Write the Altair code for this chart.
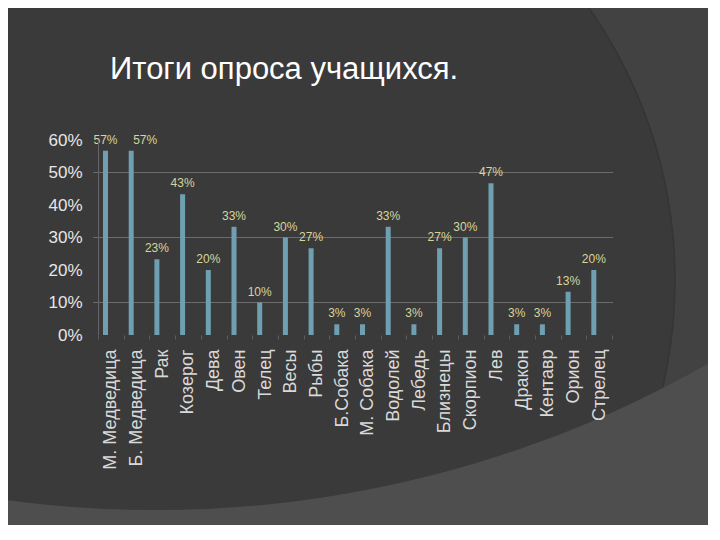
import altair as alt
import pandas as pd

TITLE = "Итоги опроса учащихся."
categories = ["М. Медведица", "Б. Медведица", "Рак", "Козерог", "Дева", "Овен", "Телец",
              "Весы", "Рыбы", "Б.Собака", "М. Собака", "Водолей", "Лебедь", "Близнецы",
              "Скорпион", "Лев", "Дракон", "Кентавр", "Орион", "Стрелец"]
percent = [56.7, 56.7, 23.3, 43.3, 20.0, 33.3, 10.0, 30.0, 26.7, 3.3,
           3.3, 33.3, 3.3, 26.7, 30.0, 46.7, 3.3, 3.3, 13.3, 20.0]
y_ticks = [0, 0.1, 0.2, 0.3, 0.4, 0.5, 0.6]
grid_vals = [0.1, 0.3, 0.5]

df = pd.DataFrame({"cat": categories, "v": [p / 100 for p in percent]})
grid_df = pd.DataFrame({"g": grid_vals})
dummy = pd.DataFrame({"d": [0]})

W, H = 514, 195
BG = "#424242"

xscale = alt.Scale(domain=categories, paddingInner=0, paddingOuter=0)
yscale = alt.Scale(domain=[0, 0.6], nice=False)
yaxis = alt.Axis(values=y_ticks, format=".0%", labelFontSize=17,
                 labelColor="#e6e6e6", labelFont="Liberation Sans", labelPadding=16,
                 labelOverlap=False, labelFlush=False, tickCount=7, zindex=1,
                 ticks=False, grid=False, domain=True, domainColor="#666666")
xaxis = alt.Axis(labelAngle=270, labelAlign="right", labelBaseline="middle",
                 labelFontSize=18, labelColor="#d9d9d9", labelFont="Liberation Sans",
                 labelPadding=10, tickBand="extent", tickSize=4, tickColor="#5e5e5e",
                 domain=False, grid=False, labelOverlap=False, zindex=1)

# decorative slide background shapes
deco_circle = alt.Chart(dummy).mark_arc(
    theta=0, theta2=6.2832, radius=473, fill="#3a3a3a", stroke="#353535", strokeWidth=1.5
).encode(x=alt.value(104), y=alt.value(140))
deco_ring = alt.Chart(dummy).mark_arc(
    theta=0, theta2=6.2832, radius=2600, radius2=1115, fill="#4e4e4e"
).encode(x=alt.value(58), y=alt.value(-745))

grid = alt.Chart(grid_df).mark_rule(color="#6c6c6c", strokeWidth=1).encode(
    y=alt.Y("g:Q", scale=yscale, axis=yaxis, title=None),
    x=alt.value(-5), x2=alt.value(W + 1),
)

bars = alt.Chart(df).mark_bar(width=5, xOffset=-5.35, color="#6fa0b2").encode(
    x=alt.X("cat:N", sort=None, scale=xscale, title=None, axis=xaxis),
    y=alt.Y("v:Q", scale=yscale, title=None, axis=yaxis),
)

def label_layer(dx, flt):
    return alt.Chart(df).transform_filter(flt).mark_text(
        xOffset=-5.35 + dx, dy=-7, baseline="alphabetic", align="center",
        fontSize=12, color="#d6d69c", font="Liberation Sans").encode(
        x=alt.X("cat:N", sort=None, scale=xscale, title=None, axis=xaxis),
        y=alt.Y("v:Q", scale=yscale, title=None, axis=yaxis),
        text=alt.Text("v:Q", format=".0%"),
    )

labels = label_layer(0, alt.datum.cat != categories[1])
labels_shifted = label_layer(14, alt.datum.cat == categories[1])

title = alt.Chart(pd.DataFrame({"t": [TITLE]})).mark_text(
    align="left", baseline="alphabetic", fontSize=31, color="#ffffff", font="Liberation Sans"
).encode(text="t:N", x=alt.value(12), y=alt.value(-61))

chart = alt.layer(deco_circle, deco_ring, grid, bars, labels, labels_shifted, title).properties(
    width=W, height=H,
    autosize=alt.AutoSizeParams(type="none"),
    padding={"left": 90, "top": 132, "right": 96, "bottom": 190},
    background=BG,
).configure_view(stroke=None)

chart.save("out.html", embed_options={"renderer": "svg", "actions": False})
